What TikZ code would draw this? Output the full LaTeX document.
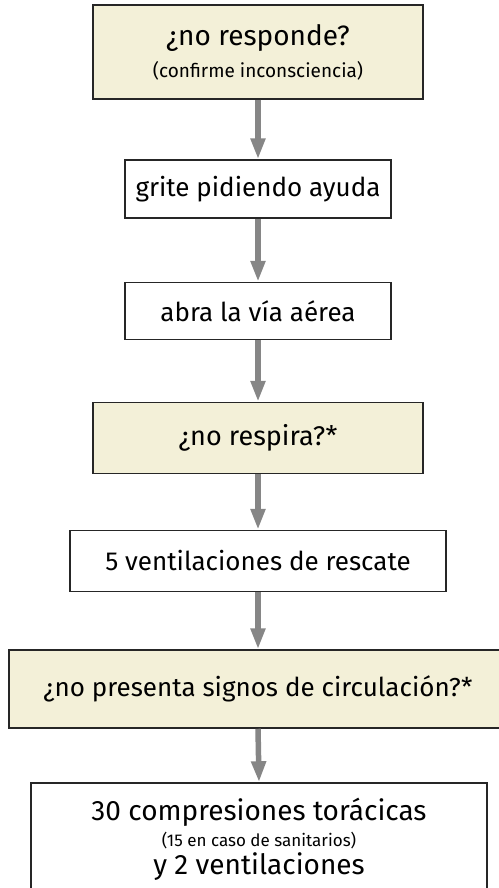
\documentclass[tikz,border=0pt]{standalone}
\usepackage{fontspec}
\setmainfont{Fira Sans}
\usetikzlibrary{arrows.meta}
\definecolor{paja}{HTML}{F3F0D8}

\begin{document}
\begin{tikzpicture}[x=1pt,y=-1pt]
    \tikzstyle{paso}=[draw=black!85, line width=1.5pt, fill=white, inner sep=0pt, align=center, font=\fontsize{26}{29}\selectfont]
    \tikzstyle{duda}=[paso, fill=paja]
    \tikzstyle{flecha}=[draw=gray!95, line width=5.5pt, -{Triangle[length=21pt,width=14pt]}]
    \useasboundingbox (0,0) rectangle (498,888);
    \node[duda, minimum width=330pt, minimum height=94pt, font=\fontsize{28}{30}\selectfont] (r1) at (258,52) {¿no responde?\\[2pt]{\fontsize{19}{21}\selectfont (confirme inconsciencia)}};
    \node[paso, minimum width=266pt, minimum height=58pt] (r2) at (258,189) {grite pidiendo ayuda};
    \node[paso, minimum width=266pt, minimum height=57pt] (r3) at (258,311) {abra la vía aérea};
    \node[duda, minimum width=330pt, minimum height=71pt, font=\fontsize{27}{29}\selectfont] (r4) at (258,438) {¿no respira?*};
    \node[paso, minimum width=376pt, minimum height=61pt] (r5) at (258,561) {5 ventilaciones de rescate};
    \node[duda, minimum width=498pt, minimum height=78pt] (r6) at (258,689) {¿no presenta signos de circulación?*};
    \node[paso, minimum width=456pt, minimum height=112pt, font=\fontsize{28}{30}\selectfont] (r7) at (259,839) {30 compresiones torácicas\\[-4pt]{\fontsize{17}{18}\selectfont (15 en caso de sanitarios)}\\[-2pt]y 2 ventilaciones};
    \foreach \actual/\siguiente in {1/2,2/3,3/4,4/5,5/6,6/7} {
        \path[flecha] (r\actual.south) -- (r\siguiente.north);
    }
\end{tikzpicture}
\end{document}
